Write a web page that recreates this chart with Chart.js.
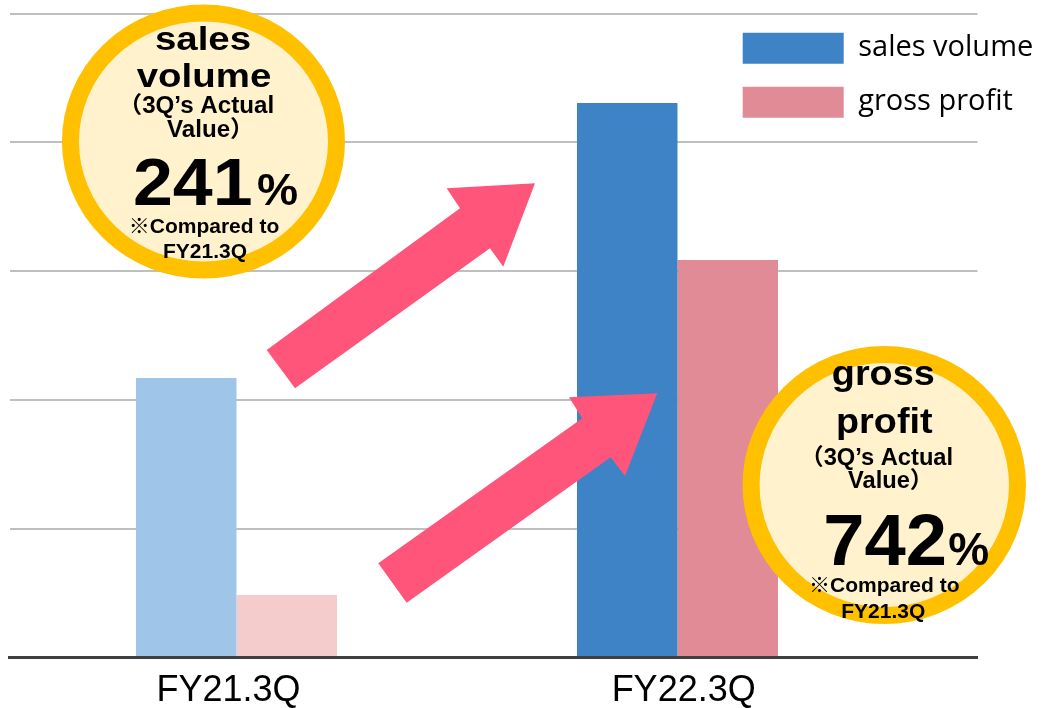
<!DOCTYPE html>
<html>
<head>
<meta charset="utf-8">
<script src="https://cdn.jsdelivr.net/npm/chart.js@4.4.1/dist/chart.umd.min.js"></script>
<style>
  html, body { margin: 0; padding: 0; background: #ffffff; }
  #wrap { width: 1042px; height: 708px; position: relative; }
</style>
</head>
<body>
<div id="wrap"><canvas id="c"></canvas></div>
<script>
// ---------- data ----------
const categories = ['FY21.3Q', 'FY22.3Q'];
const seriesNames = ['sales volume', 'gross profit'];
const salesVolume = [2.17, 4.305];
const grossProfit = [0.485, 3.086];
const yGridTicks = [0, 1, 2, 3, 4, 5];

// ---------- callout texts ----------
const circleTitles = [['sales', 'volume'], ['gross', 'profit']];
const circleSubtitle = ['（3Q’s Actual', 'Value）'];
const circlePercents = ['241', '742'];
const percentSign = '%';
const circleNote = ['※Compared to', 'FY21.3Q'];

// ---------- styles / layout ----------
const COLORS = {
  salesLight: '#9fc5e8', salesDark: '#3d83c5',
  grossLight: '#f4cccc', grossDark: '#e08b96',
  grid: '#bfbfbf', axis: '#404040',
  arrow: '#ff557a', ring: '#ffc000', ringFill: '#fff2cc'
};
const legendColors = [COLORS.salesDark, COLORS.grossDark];
const RING = 17;
const LEGEND_BOX_LEFT = 742.7, LEGEND_BOX_TOP = 32.7;
const X_AXIS_HEIGHT = 50.5;
const TICK_LABEL_NUDGE = [-0.018, 0.014]; // category label placement relative to bar-group centres

// arrow outlines, in axis units (x: category index, y: value)
const arrowShapes = [
  [[0.0685, 2.388], [0.5068, 3.488], [0.4766, 3.643], [0.6769, 3.682], [0.6050, 3.034], [0.5748, 3.177], [0.1327, 2.090]],
  [[0.3215, 0.731], [0.7841, 1.857], [0.7540, 2.020], [0.9542, 2.051], [0.8810, 1.409], [0.8485, 1.554], [0.3859, 0.425]]
];
// circles: centre and outer radii in axis units; text line offsets in px from centre
const circleSpecs = [
  { center: [-0.0748, 4.006], radius: [0.3209, 1.0637], lines: [
    { dx: -0.5, dy: -91.5, size: 34, sx: 1.13 },
    { dx: 0.5, dy: -54.5, size: 34, sx: 1.13 },
    { dx: -85.5, dy: -28.2, size: 23, sx: 1.05, align: 'left' },
    { dx: -36.5, dy: -4.2, size: 23, sx: 1.05, align: 'left' },
    { dx: -70.5, dy: 63.5, size: 67, sx: 1.07, align: 'left' },
    { dx: 53.5, dy: 63.5, size: 44, sx: 1.05, align: 'left' },
    { dx: 0.5, dy: 91.5, size: 21 },
    { dx: 1.5, dy: 116.5, size: 21 }
  ]},
  { center: [1.4689, 1.3393], radius: [0.3213, 1.0792], lines: [
    { dx: -1, dy: -100, size: 35, sx: 1.08 },
    { dx: 0, dy: -52, size: 35, sx: 1.08 },
    { dx: -84.3, dy: -20, size: 23, sx: 1.03, align: 'left' },
    { dx: -36.3, dy: 3.3, size: 23, sx: 1.03, align: 'left' },
    { dx: -61, dy: 80, size: 72, sx: 1.03, align: 'left' },
    { dx: 64, dy: 80, size: 46, align: 'left' },
    { dx: 0, dy: 106.7, size: 21 },
    { dx: -1, dy: 133, size: 21 }
  ]}
];

function drawText(ctx, text, x, y, s) {
  ctx.save();
  ctx.translate(x, y);
  ctx.scale(s.sx || 1, 1);
  ctx.font = 'bold ' + s.size + 'px "Liberation Sans", Arial, "Noto Sans CJK JP", sans-serif';
  ctx.textAlign = s.align || 'center';
  ctx.textBaseline = 'alphabetic';
  ctx.fillStyle = '#000000';
  ctx.fillText(text, 0, 0);
  ctx.restore();
}

const legendPlacer = {
  id: 'legendPlacer',
  afterLayout(chart) {
    const L = chart.legend;
    if (!L) return;
    const pad = L.options.labels.padding;
    L.left = LEGEND_BOX_LEFT - pad;
    L.top = LEGEND_BOX_TOP - pad;
    L.right = chart.width;
    L.bottom = chart.height;
    L.width = L.right - L.left;
    L.height = L.bottom - L.top;
  }
};

const callouts = {
  id: 'callouts',
  afterDraw(chart) {
    const ctx = chart.ctx;
    const xs = chart.scales.x, ys = chart.scales.y;
    const P = (pt) => [xs.getPixelForValue(pt[0]), ys.getPixelForValue(pt[1])];
    ctx.save();
    ctx.fillStyle = COLORS.arrow;
    arrowShapes.forEach(shape => {
      ctx.beginPath();
      shape.forEach((pt, i) => {
        const [x, y] = P(pt);
        if (i === 0) ctx.moveTo(x, y); else ctx.lineTo(x, y);
      });
      ctx.closePath();
      ctx.fill();
    });
    circleSpecs.forEach((c, k) => {
      const [cx, cy] = P(c.center);
      const rx = Math.abs(xs.getPixelForValue(c.center[0] + c.radius[0]) - cx) - RING / 2;
      const ry = Math.abs(ys.getPixelForValue(c.center[1] + c.radius[1]) - cy) - RING / 2;
      ctx.beginPath();
      ctx.ellipse(cx, cy, rx, ry, 0, 0, Math.PI * 2);
      ctx.fillStyle = COLORS.ringFill;
      ctx.fill();
      ctx.lineWidth = RING;
      ctx.strokeStyle = COLORS.ring;
      ctx.stroke();
      const texts = [circleTitles[k][0], circleTitles[k][1], circleSubtitle[0], circleSubtitle[1],
                     circlePercents[k], percentSign, circleNote[0], circleNote[1]];
      c.lines.forEach((ln, i) => drawText(ctx, texts[i], cx + ln.dx, cy + ln.dy, ln));
    });
    ctx.restore();
  }
};

new Chart(document.getElementById('c'), {
  type: 'bar',
  data: {
    datasets: [
      {
        label: seriesNames[0],
        data: salesVolume.map((v, i) => ({ x: i, y: v })),
        backgroundColor: (c) => c.dataIndex === 0 ? COLORS.salesLight : COLORS.salesDark,
        categoryPercentage: 0.4558,
        barPercentage: 1
      },
      {
        label: seriesNames[1],
        data: grossProfit.map((v, i) => ({ x: i, y: v })),
        backgroundColor: (c) => c.dataIndex === 0 ? COLORS.grossLight : COLORS.grossDark,
        categoryPercentage: 0.4558,
        barPercentage: 1
      }
    ]
  },
  options: {
    responsive: true,
    maintainAspectRatio: false,
    animation: false,
    events: [],
    layout: { padding: { left: 9.5, top: 13.5, right: 64.5, bottom: 0 } },
    scales: {
      x: {
        type: 'linear',
        offset: false,
        min: -0.5147,
        max: 1.6803,
        grid: { display: false, offset: false, drawTicks: false },
        border: { display: true, color: COLORS.axis, width: 3, z: 1 },
        afterBuildTicks: (s) => { s.ticks = categories.map((_, i) => ({ value: i + TICK_LABEL_NUDGE[i] })); },
        afterFit: (s) => { s.height = X_AXIS_HEIGHT; },
        ticks: {
          callback: (v, i) => categories[i] ?? '',
          font: { family: '"Liberation Sans", Arial, sans-serif', size: 36, lineHeight: 0.9 },
          color: '#000000',
          padding: 17.8,
          maxRotation: 0,
          autoSkip: false
        }
      },
      y: {
        min: yGridTicks[0],
        max: yGridTicks[yGridTicks.length - 1],
        afterBuildTicks: (s) => { s.ticks = yGridTicks.map(v => ({ value: v })); },
        ticks: { display: false },
        grid: {
          color: (c) => c.tick && c.tick.value === 0 ? 'rgba(0,0,0,0)' : COLORS.grid,
          lineWidth: 2,
          drawTicks: false
        },
        border: { display: false }
      }
    },
    plugins: {
      legend: {
        position: 'chartArea',
        align: 'start',
        labels: {
          boxWidth: 101,
          boxHeight: 31,
          padding: 23,
          color: '#000000',
          font: { family: '"Open Sans", sans-serif', size: 29 },
          generateLabels: (chart) => Chart.defaults.plugins.legend.labels.generateLabels(chart)
            .map((item, i) => Object.assign(item, { fillStyle: legendColors[i], strokeStyle: legendColors[i], lineWidth: 0 }))
        }
      },
      tooltip: { enabled: false }
    }
  },
  plugins: [legendPlacer, callouts]
});
</script>
</body>
</html>
